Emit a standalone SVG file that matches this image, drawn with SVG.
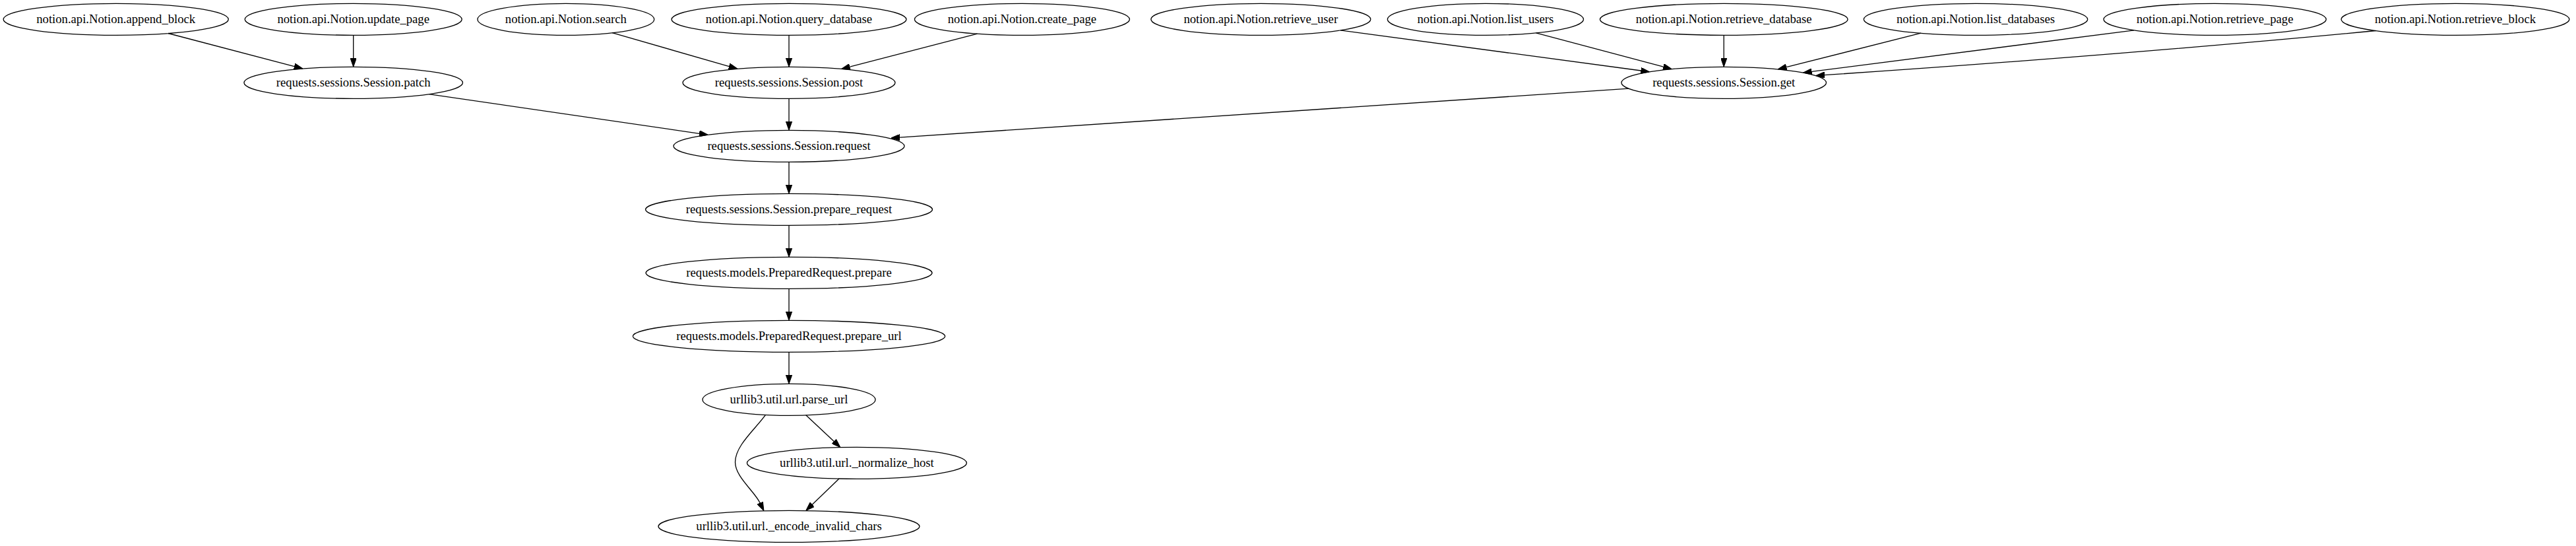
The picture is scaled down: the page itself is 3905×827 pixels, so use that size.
<svg xmlns="http://www.w3.org/2000/svg" width="3905" height="827" viewBox="0 0 3905 827">
<style>
.n ellipse{fill:none;stroke:#000;stroke-width:1.33}
.n text{font-family:"Liberation Serif","Times New Roman",serif;font-size:18.67px;text-anchor:middle;fill:#000}
#edges path{fill:none;stroke:#000;stroke-width:1.33;marker-end:url(#arr)}
</style>
<defs>
<marker id="arr" markerUnits="userSpaceOnUse" viewBox="0 0 13.33 9.33" refX="0" refY="4.67" markerWidth="13.33" markerHeight="9.33" orient="auto">
<path d="M0,0 L13.33,4.67 L0,9.33 Z" fill="#000" stroke="#000" stroke-width="1"/>
</marker>
</defs>
<rect width="3905" height="827" fill="#fff"/>
<g id="edges">
<path d="M255,50.5 L446.1,100.6"/>
<path d="M535.7,53.3 L535.7,88"/>
<path d="M928,49.7 L1105.2,100.6"/>
<path d="M1196,53.3 L1196,88"/>
<path d="M1481.5,51.1 L1288.4,101.1"/>
<path d="M650.5,142.6 L1060.1,202.3"/>
<path d="M1196,149.3 L1196,184"/>
<path d="M2468.8,134.1 L1364.1,208.1"/>
<path d="M2031.9,45.8 L2487.4,107"/>
<path d="M2328.4,49.9 L2521.5,101.2"/>
<path d="M2613.2,53.3 L2613.2,88"/>
<path d="M2912,50.2 L2708.1,101.6"/>
<path d="M3234.8,45.8 L2746.6,108.4"/>
<path d="M3601.5,46.5 C3380,68 3050,95 2765.9,113.6"/>
<path d="M1196,245.3 L1196,280"/>
<path d="M1196,341.3 L1196,376"/>
<path d="M1196,437.3 L1196,472"/>
<path d="M1196,533.3 L1196,568"/>
<path d="M1221.7,628.8 L1264.2,668.5"/>
<path d="M1272,725 L1231.3,764.2"/>
<path d="M1160.5,628.4 C1145,650 1114.5,675 1114.5,700 C1114.5,722 1143.3,743.7 1152.1,761.7"/>
</g>
<g id="append_block" class="n"><ellipse cx="175.7" cy="29.33" rx="170.6" ry="24"/><text x="175.7" y="34.5">notion.api.Notion.append_block</text></g>
<g id="update_page" class="n"><ellipse cx="535.7" cy="29.33" rx="164.5" ry="24"/><text x="535.7" y="34.5">notion.api.Notion.update_page</text></g>
<g id="search" class="n"><ellipse cx="857.8" cy="29.33" rx="133.9" ry="24"/><text x="857.8" y="34.5">notion.api.Notion.search</text></g>
<g id="query_database" class="n"><ellipse cx="1196" cy="29.33" rx="178" ry="24"/><text x="1196" y="34.5">notion.api.Notion.query_database</text></g>
<g id="create_page" class="n"><ellipse cx="1549.4" cy="29.33" rx="163" ry="24"/><text x="1549.4" y="34.5">notion.api.Notion.create_page</text></g>
<g id="retrieve_user" class="n"><ellipse cx="1911.3" cy="29.33" rx="166.5" ry="24"/><text x="1911.3" y="34.5">notion.api.Notion.retrieve_user</text></g>
<g id="list_users" class="n"><ellipse cx="2251.9" cy="29.33" rx="148.6" ry="24"/><text x="2251.9" y="34.5">notion.api.Notion.list_users</text></g>
<g id="retrieve_database" class="n"><ellipse cx="2613.2" cy="29.33" rx="187.8" ry="24"/><text x="2613.2" y="34.5">notion.api.Notion.retrieve_database</text></g>
<g id="list_databases" class="n"><ellipse cx="2995" cy="29.33" rx="169.7" ry="24"/><text x="2995" y="34.5">notion.api.Notion.list_databases</text></g>
<g id="retrieve_page" class="n"><ellipse cx="3357.6" cy="29.33" rx="168.7" ry="24"/><text x="3357.6" y="34.5">notion.api.Notion.retrieve_page</text></g>
<g id="retrieve_block" class="n"><ellipse cx="3722" cy="29.33" rx="172.9" ry="24"/><text x="3722" y="34.5">notion.api.Notion.retrieve_block</text></g>
<g id="patch" class="n"><ellipse cx="535.7" cy="125.33" rx="165.8" ry="24"/><text x="535.7" y="130.5">requests.sessions.Session.patch</text></g>
<g id="post" class="n"><ellipse cx="1196" cy="125.33" rx="161" ry="24"/><text x="1196" y="130.5">requests.sessions.Session.post</text></g>
<g id="get" class="n"><ellipse cx="2613.2" cy="125.33" rx="155.3" ry="24"/><text x="2613.2" y="130.5">requests.sessions.Session.get</text></g>
<g id="request" class="n"><ellipse cx="1196" cy="221.33" rx="175" ry="24"/><text x="1196" y="226.5">requests.sessions.Session.request</text></g>
<g id="prepare_request" class="n"><ellipse cx="1196" cy="317.33" rx="217.5" ry="24"/><text x="1196" y="322.5">requests.sessions.Session.prepare_request</text></g>
<g id="prepare" class="n"><ellipse cx="1196" cy="413.33" rx="217" ry="24"/><text x="1196" y="418.5">requests.models.PreparedRequest.prepare</text></g>
<g id="prepare_url" class="n"><ellipse cx="1196" cy="509.33" rx="236.6" ry="24"/><text x="1196" y="514.5">requests.models.PreparedRequest.prepare_url</text></g>
<g id="parse_url" class="n"><ellipse cx="1196" cy="605.33" rx="131" ry="24"/><text x="1196" y="610.5">urllib3.util.url.parse_url</text></g>
<g id="normalize_host" class="n"><ellipse cx="1298.9" cy="701.33" rx="166.5" ry="24"/><text x="1298.9" y="706.5">urllib3.util.url._normalize_host</text></g>
<g id="encode_invalid_chars" class="n"><ellipse cx="1196" cy="797.33" rx="198" ry="24"/><text x="1196" y="802.5">urllib3.util.url._encode_invalid_chars</text></g>
</svg>
